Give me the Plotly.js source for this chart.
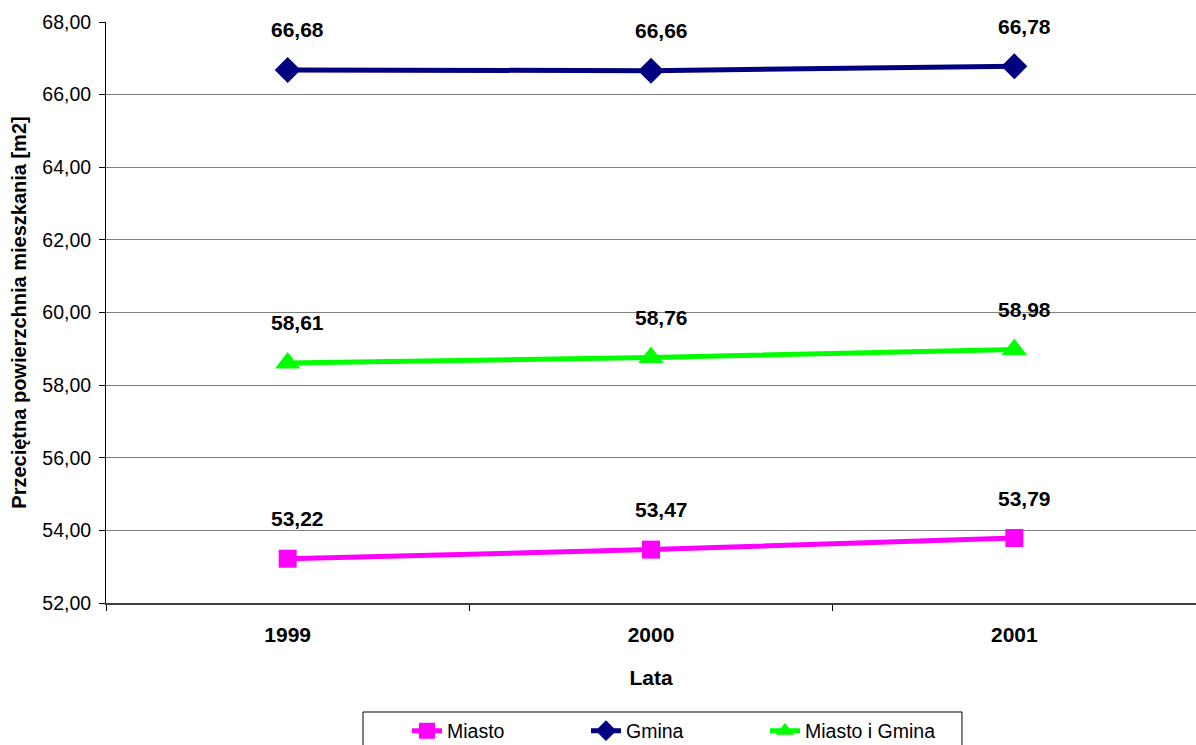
<!DOCTYPE html>
<html>
<head>
<meta charset="utf-8">
<script src="https://cdn.plot.ly/plotly-3.0.1.min.js"></script>
<style>html,body{margin:0;padding:0;background:#fff;}#chart{width:1196px;height:745px;}</style>
</head>
<body>
<div id="chart"></div>
<script>
const years = ['1999', '2000', '2001'];
const miasto = [53.22, 53.47, 53.79];
const gmina = [66.68, 66.66, 66.78];
const miastoIGmina = [58.61, 58.76, 58.98];
const seriesNames = ['Miasto', 'Gmina', 'Miasto i Gmina'];
const yTicks = [52, 54, 56, 58, 60, 62, 64, 66, 68];

const FONT = '"Liberation Sans", Arial, sans-serif';
const fmt = v => v.toFixed(2).replace('.', ',');

const seriesList = [
  {name: seriesNames[0], y: miasto, color: '#FF00FF', symbol: 'square', size: 18},
  {name: seriesNames[1], y: gmina, color: '#000080', symbol: 'diamond', size: 20},
  {name: seriesNames[2], y: miastoIGmina, color: '#00FF00', symbol: 'triangle-up', size: 22}
];

const traces = seriesList.map(s => ({
  type: 'scatter',
  mode: 'lines+markers',
  name: s.name,
  x: years,
  y: s.y,
  line: {color: s.color, width: 5},
  marker: {color: s.color, symbol: s.symbol, size: s.size, line: {width: 0}},
  hoverinfo: 'x+y'
}));

const annotations = [];
seriesList.forEach(s => {
  s.y.forEach((v, i) => {
    annotations.push({
      x: i, y: v, xref: 'x', yref: 'y',
      text: '<b>' + fmt(v) + '</b>',
      showarrow: false,
      xshift: 10, yshift: 40,
      font: {family: FONT, size: 21, color: '#000'}
    });
  });
});

const layout = {
  width: 1196, height: 745,
  margin: {l: 106, r: 0, t: 22, b: 142, autoexpand: false},
  paper_bgcolor: '#fff', plot_bgcolor: '#fff',
  separators: ', ',
  font: {family: FONT, color: '#000'},
  showlegend: true,
  xaxis: {
    type: 'category',
    categoryorder: 'array', categoryarray: years,
    range: [-0.5, 2.5],
    showgrid: false, zeroline: false,
    showline: true, linecolor: '#404040', linewidth: 2,
    ticks: 'outside', tickson: 'boundaries', ticklen: 6, tickcolor: '#000', tickwidth: 1,
    tickfont: {family: FONT, size: 21, color: '#000', weight: 'bold'},
    ticklabelstandoff: 12,
    automargin: false,
    title: {text: '<b>Lata</b>', font: {family: FONT, size: 21, color: '#000'}, standoff: 25}
  },
  yaxis: {
    range: [52, 68],
    tickvals: yTicks,
    ticktext: yTicks.map(fmt),
    showgrid: true, gridcolor: '#808080', gridwidth: 1,
    zeroline: false,
    showline: true, linecolor: '#000', linewidth: 1,
    ticks: 'outside', ticklen: 6, tickcolor: '#000',
    tickfont: {family: FONT, size: 19.5, color: '#000'},
    ticklabelstandoff: 4,
    automargin: false,
    title: {text: '<b>Przeciętna powierzchnia mieszkania [m2]</b>', font: {family: FONT, size: 20, color: '#000'}, standoff: 10}
  },
  legend: {
    orientation: 'h',
    xref: 'container', yref: 'container',
    x: 0.3403, xanchor: 'left',
    y: 0.045, yanchor: 'top',
    bgcolor: 'rgba(0,0,0,0)',
    borderwidth: 0,
    entrywidth: 134, entrywidthmode: 'pixels',
    font: {family: FONT, size: 19.5, color: '#000'},
    itemclick: false, itemdoubleclick: false
  },
  shapes: [{
    type: 'rect', xref: 'paper', yref: 'paper',
    x0: 0.2358, x1: 0.7853, y0: -0.1876, y1: -0.35,
    line: {color: '#000', width: 1}, fillcolor: 'rgba(0,0,0,0)', layer: 'below'
  }],
  annotations: annotations
};

Plotly.newPlot('chart', traces, layout, {displayModeBar: false, staticPlot: true});
</script>
</body>
</html>
